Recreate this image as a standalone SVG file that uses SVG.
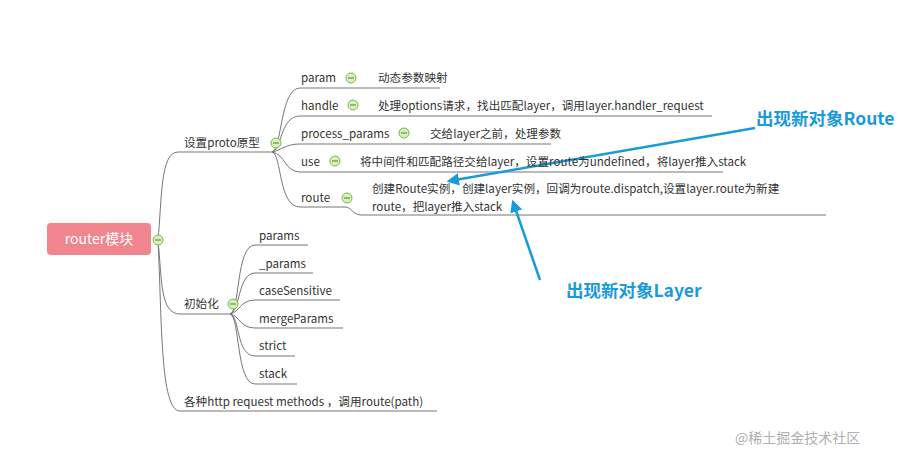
<svg xmlns="http://www.w3.org/2000/svg" width="911" height="463" viewBox="0 0 911 463">
<defs>
<style>
text{font-family:"Noto Sans CJK SC","Liberation Sans",sans-serif;font-size:11.6px;fill:#333}
.l{fill:none;stroke:#777;stroke-width:1}
.c{fill:#d9f0c4;stroke:#7ab648;stroke-width:1}
.m{stroke:#5a9a2a;stroke-width:1.2}
.a{fill:none;stroke:#1a9ad8;stroke-width:2.5}
.big{font-size:17.5px;font-weight:bold;fill:#1a9ad8}
</style>
<marker id="ar" viewBox="0 0 10 10" refX="8" refY="5" markerWidth="5" markerHeight="5" orient="auto"><path d="M0,0L10,5L0,10z" fill="#1a9ad8"/></marker>
<symbol id="col" viewBox="-6 -6 12 12" overflow="visible"><circle r="5" class="c"/><line x1="-3" x2="3" class="m"/></symbol>
</defs>
<rect width="911" height="463" fill="#fff"/>
<g id="connectors">
<path class="l" d="M158,240 C162,200 160,152 178,152 H272"/>
<path class="l" d="M158,240 C162,280 160,314 180,314 H230"/>
<path class="l" d="M158,240 C162,320 160,411 180,411 H437"/>
<path class="l" d="M272,152 C282,150 280,88 300,88 H440"/>
<path class="l" d="M272,152 C282,150 280,116 300,116 H712"/>
<path class="l" d="M272,152 C282,150 285,144 300,144 H551"/>
<path class="l" d="M272,152 C285,154 285,172 300,172 H723"/>
<path class="l" d="M272,152 C282,154 278,207 300,207 H345 C352,207 352,215 362,215 H826"/>
<path class="l" d="M230,314 C240,312 236,245 255,245 H308"/>
<path class="l" d="M230,314 C240,312 238,273 255,273 H313"/>
<path class="l" d="M230,314 C240,312 240,300 255,300 H340"/>
<path class="l" d="M230,314 C240,316 240,328 255,328 H343"/>
<path class="l" d="M230,314 C240,316 236,356 255,356 H295"/>
<path class="l" d="M230,314 C240,316 236,384 255,384 H297"/>
<path class="a" d="M755,128 L449,181" marker-end="url(#ar)"/>
<path class="a" d="M540,280 L513,202" marker-end="url(#ar)"/>
</g>
<g id="root"><rect x="47" y="223" width="104" height="32" rx="4" fill="#f0858d"/><text x="99" y="244" text-anchor="middle" style="fill:#fff;font-size:14px">router模块</text><use href="#col" x="152" y="234" width="12" height="12"/></g>
<g id="proto"><text x="184" y="147">设置proto原型</text><use href="#col" x="270" y="137" width="12" height="12"/></g>
<g id="param"><text x="301" y="82">param</text><use href="#col" x="345" y="72" width="12" height="12"/><text x="378" y="82">动态参数映射</text></g>
<g id="handle"><text x="301" y="110">handle</text><use href="#col" x="347" y="99" width="12" height="12"/><text x="378" y="110">处理options请求，找出匹配layer，调用layer.handler_request</text></g>
<g id="process_params"><text x="301" y="138">process_params</text><use href="#col" x="398" y="127" width="12" height="12"/><text x="430" y="138">交给layer之前，处理参数</text></g>
<g id="use"><text x="301" y="166">use</text><use href="#col" x="329" y="155" width="12" height="12"/><text x="360" y="166">将中间件和匹配路径交给layer，设置route为undefined，将layer推入stack</text></g>
<g id="route"><text x="301" y="202">route</text><use href="#col" x="341" y="192" width="12" height="12"/><text x="372" y="193">创建Route实例，创建layer实例，回调为route.dispatch,设置layer.route为新建</text><text x="372" y="211">route，把layer推入stack</text></g>
<g id="init"><text x="184" y="308">初始化</text><use href="#col" x="227" y="298" width="12" height="12"/></g>
<g id="params"><text x="259" y="240">params</text></g>
<g id="_params"><text x="259" y="268">_params</text></g>
<g id="caseSensitive"><text x="259" y="295">caseSensitive</text></g>
<g id="mergeParams"><text x="259" y="323">mergeParams</text></g>
<g id="strict"><text x="259" y="350">strict</text></g>
<g id="stack"><text x="259" y="378">stack</text></g>
<g id="http"><text x="184" y="406">各种http request methods ，调用route(path)</text></g>
<g id="labels"><text x="756" y="125" class="big">出现新对象Route</text><text x="566" y="297" class="big">出现新对象Layer</text></g>
<text x="735" y="443" style="font-size:14px;fill:#b0b0b0">@稀土掘金技术社区</text>
</svg>
